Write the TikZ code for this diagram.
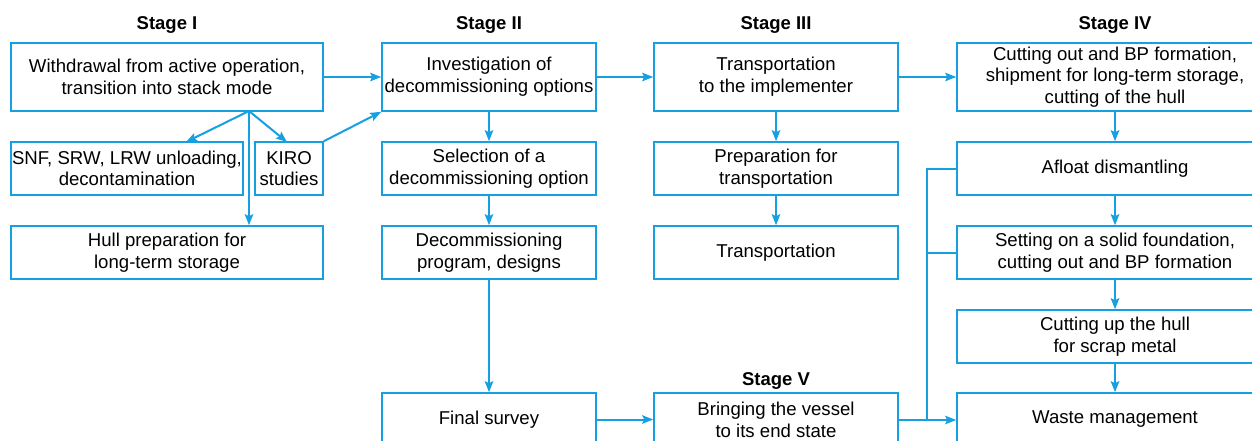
\documentclass[tikz,border=0pt]{standalone}
\usepackage{fontspec}
\setmainfont{Liberation Sans}
\usetikzlibrary{arrows.meta}
\definecolor{flow}{RGB}{22,160,226}
\begin{document}
\begin{tikzpicture}[x=1pt,y=-1pt,
  box/.style={draw=flow,line width=1.6pt,inner sep=0pt,align=center,
    font=\fontsize{18.6}{21.7}\selectfont},
  conn/.style={draw=flow,line width=2pt},
  arr/.style={conn,-{Stealth[length=11pt,width=8.5pt,inset=2pt]}},
  stagelbl/.style={font=\fontsize{18.5}{21}\selectfont\bfseries}]
\useasboundingbox (0,0) rectangle (1252,441);
\newcommand{\bx}[6]{\node[box,minimum width=#4-#2,minimum height=#5-#3] (#1) at ({(#2+#4)/2},{(#3+#5)/2}) {#6};}
% Stage labels
\node[stagelbl] (s1) at (167,25) {Stage I};
\node[stagelbl] (s2) at (489,25) {Stage II};
\node[stagelbl] (s3) at (776,25) {Stage III};
\node[stagelbl] (s4) at (1115,25) {Stage IV};
\node[stagelbl] (s5) at (776,381) {Stage V};
% Column I
\bx{w}{11}{43}{323}{111}{Withdrawal from active operation,\\transition into stack mode}
\bx{snf}{11}{142}{243}{195}{SNF, SRW, LRW unloading,\\decontamination}
\bx{kiro}{255}{142}{323}{195}{KIRO\\studies}
\bx{hull}{11}{226}{323}{279}{Hull preparation for\\long-term storage}
% Column II
\bx{inv}{382}{43}{596}{111}{Investigation of\\decommissioning options}
\bx{sel}{382}{142}{596}{195}{Selection of a\\decommissioning option}
\bx{prog}{382}{226}{596}{279}{Decommissioning\\program, designs}
\bx{fin}{382}{393}{596}{446}{Final survey}
% Column III
\bx{timp}{654}{43}{898}{111}{Transportation\\to the implementer}
\bx{prep}{654}{142}{898}{195}{Preparation for\\transportation}
\bx{trans}{654}{226}{898}{279}{Transportation}
\bx{endst}{654}{393}{898}{446}{Bringing the vessel\\to its end state}
% Column IV
\bx{cut}{957}{43}{1273}{111}{Cutting out and BP formation,\\shipment for long-term storage,\\cutting of the hull}
\bx{afl}{957}{142}{1273}{195}{Afloat dismantling}
\bx{set}{957}{226}{1273}{279}{Setting on a solid foundation,\\cutting out and BP formation}
\bx{scrap}{957}{310}{1273}{363}{Cutting up the hull\\for scrap metal}
\bx{waste}{957}{393}{1273}{446}{Waste management}
% Connectors, Stage I
\coordinate (sp) at (249,111);
\coordinate (snft) at (186,142);
\coordinate (kirot) at (287,142);
\draw[arr] (sp) -- (snft);
\draw[arr] (sp) -- (kirot);
\draw[arr] (sp) -- (sp |- hull.north);
\draw[arr] (w.east) -- (w.east -| inv.west);
\draw[arr] (kiro.north east) -- (inv.south west);
% Stage II
\draw[arr] (inv.south) -- (sel.north);
\draw[arr] (sel.south) -- (prog.north);
\draw[arr] (prog.south) -- (fin.north);
\draw[arr] (inv.east) -- (timp.west);
\draw[arr] (fin.east) -- (endst.west);
% Stage III
\draw[arr] (timp.south) -- (prep.north);
\draw[arr] (prep.south) -- (trans.north);
\draw[arr] (timp.east) -- (cut.west);
% Stage IV
\draw[arr] (cut.south) -- (afl.north);
\draw[arr] (afl.south) -- (set.north);
\draw[arr] (set.south) -- (scrap.north);
\draw[arr] (scrap.south) -- (waste.north);
% Stage V to IV
\coordinate (j) at (927,420);
\draw[arr] (endst.east |- j) -- (waste.west |- j);
\draw[conn] (j) -- (j |- afl.west) -- (afl.west);
\draw[conn] (j |- set.west) -- (set.west);
\end{tikzpicture}
\end{document}
